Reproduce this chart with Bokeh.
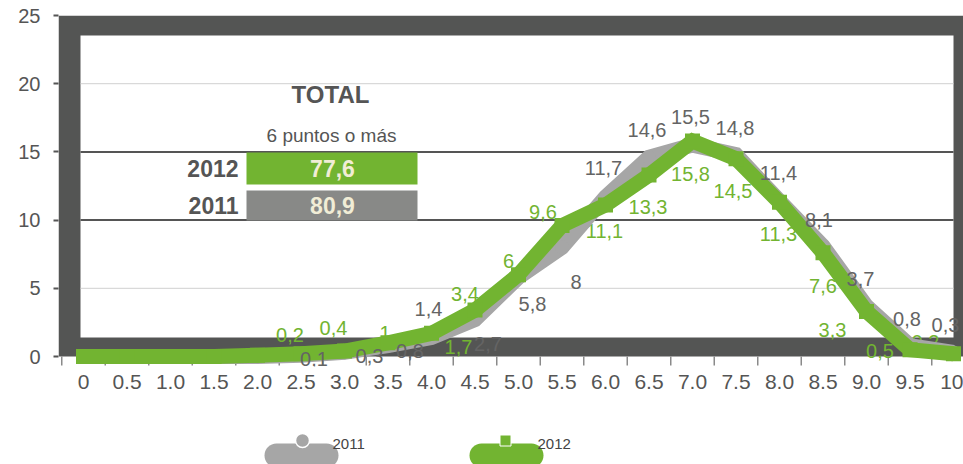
from bokeh.plotting import figure
from bokeh.layouts import column
from bokeh.models import Range1d, FixedTicker, ColumnDataSource, LabelSet
from bokeh.core.properties import value
from bokeh.embed import file_html
from bokeh.resources import INLINE

# ---------------- data ----------------
categories = ["0", "0.5", "1.0", "1.5", "2.0", "2.5", "3.0", "3.5", "4.0", "4.5", "5.0",
              "5.5", "6.0", "6.5", "7.0", "7.5", "8.0", "8.5", "9.0", "9.5", "10"]
values_2011 = [0, 0, 0, 0, 0, 0.1, 0.3, 0.8, 1.4, 2.7, 5.8, 8.0, 11.7, 14.6, 15.5, 14.8,
               11.4, 8.1, 3.7, 0.8, 0.3]
values_2012 = [0, 0, 0, 0, 0.1, 0.2, 0.4, 1.0, 1.7, 3.4, 6.0, 9.6, 11.1, 13.3, 15.8, 14.5,
               11.3, 7.6, 3.3, 0.5, 0.2]
y_ticks = [0, 5, 10, 15, 20, 25]
summary_title = "TOTAL"
summary_subtitle = "6 puntos o más"
summary_years = ["2012", "2011"]
summary_values = ["77,6", "80,9"]
legend_labels = ["2011", "2012"]

# ---------------- label placement (pixels, relative to point; +dy = down) ----------------
gray_dx = [0, 0, 0, 0, 0, 13, 25, 22, -3, 13, 14, 14, -2, -2, -2, -1, -1, -4, -6, -3, -8]
gray_dy = [0, 0, 0, 0, 0, 4, 4, 5, -28, 24, 27, 35, -29, -27, -28, -27, -28, -26, -27, -27, -27]
green_dx = [0, 0, 0, 0, 0, -11, -11, -3, 27, -10, -10, -19, -1, -1, -2, -3, -1, 0, -34, -30, -28]
green_dy = [0, 0, 0, 0, 0, -19, -23, -10, 14, -16, -14, -14, 26, 32, 33, 32, 32, 33, 19, 1, -12]
green_label_shown = [False] * 5 + [True] * 16

# ---------------- styles ----------------
DARK = "#545554"
GREEN = "#72b431"
GRAY_LINE = "#a6a6a6"
GRAY_BOX = "#888987"
CREAM = "#f1edd6"
TXT = "#555555"
GRAY_LABEL = "#646464"
FONT = "Liberation Sans"

# reference geometry (page pixels) used to convert layout positions
X0_PX, DX_PX = 83.0, 43.5
Y0_PX, DY_PX = 356.0, 13.64
FRAME_L, FRAME_R = 58, 963


def xd(px):
    return (px - X0_PX) / DX_PX


def yd(py):
    return (Y0_PX - py) / DY_PX


def fmt(v):
    return f"{v:g}".replace(".", ",")


idx = list(range(len(categories)))

p = figure(width=963, height=406,
           x_range=Range1d(xd(FRAME_L), xd(FRAME_R)), y_range=Range1d(yd(366), yd(15)),
           output_backend="svg", toolbar_location=None,
           min_border_left=FRAME_L, min_border_right=0, min_border_top=15, min_border_bottom=40)
p.outline_line_color = None
p.background_fill_color = "white"
p.border_fill_color = "white"
p.xgrid.visible = False
p.ygrid.visible = False

# dark frame + white inner area
p.quad(left=xd(FRAME_L), right=xd(FRAME_R), bottom=0, top=25, fill_color=DARK, line_color=None)
p.quad(left=xd(80), right=xd(953), bottom=yd(337), top=yd(35), fill_color="white", line_color=None)

# grid lines
light = [t for t in y_ticks if t in (5, 20)]
dark = [t for t in y_ticks if t in (10, 15)]
p.segment(x0=[xd(80)] * len(light), x1=[xd(953)] * len(light), y0=light, y1=light,
          line_color="#d0d0d0", line_width=1)
p.segment(x0=[xd(80)] * len(dark), x1=[xd(953)] * len(dark), y0=dark, y1=dark,
          line_color=TXT, line_width=2)

# category separator ticks
bounds = [i - 0.5 for i in idx]
p.segment(x0=bounds, x1=bounds, y0=[0] * len(bounds), y1=[yd(365)] * len(bounds),
          line_color="#8a8a8a", line_width=1.5)

# summary boxes
p.quad(left=[xd(246)], right=[xd(417)], bottom=[yd(184)], top=[yd(152)],
       fill_color=GREEN, line_color=None)
p.quad(left=[xd(246)], right=[xd(417)], bottom=[yd(220)], top=[yd(190)],
       fill_color=GRAY_BOX, line_color=None)

# green labels (beneath lines)
gi = [i for i in idx if green_label_shown[i] and values_2012[i] > 0]
g_src = ColumnDataSource(dict(
    x=gi,
    y=[values_2012[i] for i in gi],
    t=[fmt(values_2012[i]) for i in gi],
    dx=[green_dx[i] for i in gi],
    dy=[green_dy[i] for i in gi],
))
p.text(x="x", y="y", text="t", x_offset="dx", y_offset="dy", source=g_src,
       text_color=GREEN, text_font=value(FONT), text_font_size="20px",
       text_align="center", text_baseline="middle")

# lines
p.line(idx, values_2011, line_color=GRAY_LINE, line_width=15, line_join="miter")
p.scatter(idx, values_2011, marker="circle", size=14, fill_color=GRAY_LINE, line_color=None)
p.line(idx, values_2012, line_color=GREEN, line_width=15, line_join="miter")
p.scatter(idx, values_2012, marker="square", size=15, fill_color=GREEN, line_color=None)

# gray labels (annotation layer, drawn on top)
ki = [i for i in idx if values_2011[i] > 0]
k_src = ColumnDataSource(dict(
    x=ki,
    y=[values_2011[i] for i in ki],
    t=[fmt(values_2011[i]) for i in ki],
    dx=[gray_dx[i] for i in ki],
    dy=[-gray_dy[i] for i in ki],
))
p.add_layout(LabelSet(x="x", y="y", text="t", x_offset="dx", y_offset="dy", source=k_src,
                      text_color=GRAY_LABEL, text_font=value(FONT), text_font_size="20px",
                      text_align="center", text_baseline="middle"))

# summary texts
p.text(x=[xd(330)], y=[yd(94)], text=[summary_title], text_color=TXT, text_font=value(FONT),
       text_font_size="24px", text_font_style="bold", text_align="center", text_baseline="middle")
p.text(x=[xd(331)], y=[yd(135)], text=[summary_subtitle], text_color=TXT, text_font=value(FONT),
       text_font_size="19px", text_align="center", text_baseline="middle")
p.text(x=[xd(238)] * 2, y=[yd(168), yd(205)], text=summary_years, text_color=TXT,
       text_font=value(FONT), text_font_size="23px", text_font_style="bold",
       text_align="right", text_baseline="middle")
p.text(x=[xd(332)] * 2, y=[yd(168), yd(205)], text=summary_values, text_color=CREAM,
       text_font=value(FONT), text_font_size="23px", text_font_style="bold",
       text_align="center", text_baseline="middle")

# axes
p.yaxis.ticker = FixedTicker(ticks=y_ticks, minor_ticks=[])
p.yaxis.axis_line_color = None
p.yaxis.major_tick_out = 5
p.yaxis.major_tick_in = 0
p.yaxis.major_tick_line_color = TXT
p.yaxis.major_tick_line_width = 2
p.yaxis.minor_tick_line_color = None
p.yaxis.major_label_standoff = 13
p.yaxis.major_label_text_font = FONT
p.yaxis.major_label_text_font_size = "20px"
p.yaxis.major_label_text_color = TXT

p.xaxis.ticker = FixedTicker(ticks=idx, minor_ticks=[])
p.xaxis.major_label_overrides = {i: c for i, c in zip(idx, categories)}
p.xaxis.axis_line_color = None
p.xaxis.major_tick_line_color = None
p.xaxis.minor_tick_line_color = None
p.xaxis.major_tick_out = 0
p.xaxis.major_tick_in = 0
p.xaxis.major_label_standoff = 8
p.xaxis.major_label_text_font = FONT
p.xaxis.major_label_text_font_size = "21px"
p.xaxis.major_label_text_color = TXT

# ---------------- legend strip (frame is aligned with the main frame: x 58..963) ----------------
lf = figure(width=963, height=58, x_range=Range1d(FRAME_L, FRAME_R), y_range=Range1d(464, 406),
            x_axis_type=None, y_axis_type=None, output_backend="svg", toolbar_location=None,
            min_border_left=FRAME_L, min_border_right=0, min_border_top=0, min_border_bottom=0)
lf.outline_line_color = None
lf.background_fill_color = "white"
lf.border_fill_color = "white"
lf.grid.visible = False

lf.line([276, 326], [455, 455], line_color=GRAY_LINE, line_width=24, line_cap="round")
lf.scatter([302], [440], marker="circle", size=14, fill_color=GRAY_LINE, line_color="white",
           line_width=1.5)
lf.line([481, 531], [455, 455], line_color=GREEN, line_width=24, line_cap="round")
lf.scatter([505], [440], marker="square", size=11, fill_color=GREEN, line_color="white",
           line_width=1)
lf.text(x=[332, 537], y=[443, 443], text=legend_labels, text_color="#444444",
        text_font=value(FONT), text_font_size="15px", text_align="left", text_baseline="middle")

layout = column(p, lf, spacing=0)
open("out.html", "w").write(file_html(layout, INLINE))
